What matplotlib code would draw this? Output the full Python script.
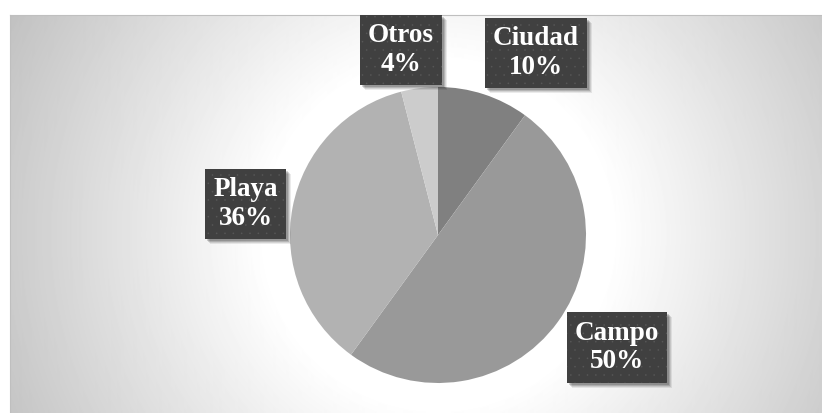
import matplotlib
matplotlib.use("Agg")
import matplotlib.pyplot as plt
from matplotlib.patches import Rectangle
import numpy as np

# data
categories = ["Ciudad", "Campo", "Playa", "Otros"]
values = [10, 50, 36, 4]
colors = ["#808080", "#999999", "#b2b2b2", "#cccccc"]

# label box centres, in pie radius units (layout only)
label_pos = {"Ciudad": (0.66, 1.23), "Campo": (1.21, -0.76),
             "Playa": (-1.30, 0.21), "Otros": (-0.25, 1.25)}

W, H = 822, 413
fig = plt.figure(figsize=(W / 100, H / 100), dpi=100)
fig.patch.set_facecolor("white")

# chart area with radial grey gradient
left, top = 10, 15
bg = fig.add_axes([left / W, 0, (W - left) / W, (H - top) / H])
cx, cy, r = 438, 235, 148
xs = np.arange(left, W) + 0.5
ys = np.arange(top, H) + 0.5
X, Y = np.meshgrid(xs, ys)
d = np.hypot(X - cx, Y - cy)
shade = np.clip(255 - 0.2 * np.maximum(d - 173, 0), 185, 255) / 255
bg.imshow(shade, cmap="gray", vmin=0, vmax=1, aspect="auto",
          extent=[0, 1, 0, 1], interpolation="bilinear")
bg.set_xticks([])
bg.set_yticks([])
for s in bg.spines.values():
    s.set_color("#bfbfbf")
    s.set_linewidth(0.8)
bg.spines["right"].set_visible(False)
bg.spines["bottom"].set_visible(False)

# pie
ax = fig.add_axes([(cx - r) / W, (H - cy - r) / H, 2 * r / W, 2 * r / H])
ax.pie(values, colors=colors, startangle=90, counterclock=False,
       wedgeprops=dict(linewidth=0))
ax.set_xlim(-1, 1)
ax.set_ylim(-1, 1)
ax.set_aspect("auto")
ax.axis("off")

plt.rcParams["hatch.linewidth"] = 0
labels = []
for cat, val in zip(categories, values):
    x, y = label_pos[cat]
    t = ax.text(x, y, f"{cat}\n{val}%", ha="center", va="center",
                multialignment="center", fontsize=19.5, fontweight="bold",
                family="Liberation Serif", linespacing=1.2, color="white",
                zorder=5,
                bbox=dict(boxstyle="square,pad=0.3", fc="#404040",
                          ec="#575757", lw=0, hatch=".."))
    labels.append(t)

# soft drop shadows behind the label boxes (drawn in pixels, below the texts)
fig.canvas.draw()
for t in labels:
    bb = t.get_bbox_patch().get_window_extent()
    for k, a in [(5, 0.08), (4, 0.10), (3, 0.14), (2, 0.16)]:
        ax.add_patch(Rectangle((bb.x0 + k, bb.y0 - k), bb.width, bb.height,
                               transform=None, fc="black", alpha=a, lw=0,
                               zorder=4, clip_on=False))

fig.savefig("out.png", dpi=100)
